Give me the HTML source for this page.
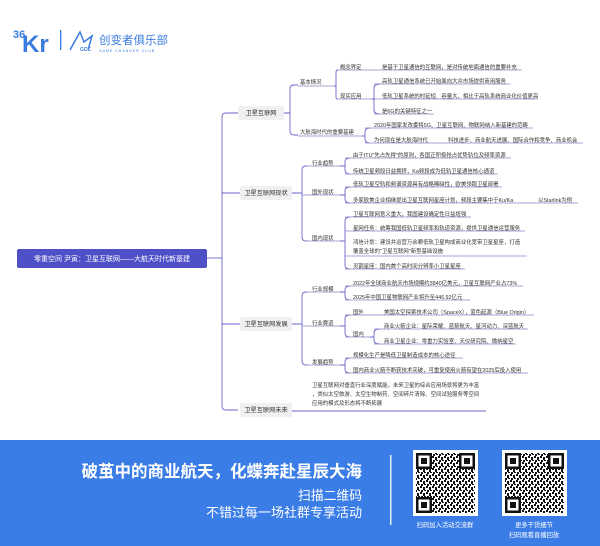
<!DOCTYPE html>
<html><head><meta charset="utf-8"><style>
html,body{margin:0;padding:0;background:#fff;}
svg{display:block;}
text{font-family:"Liberation Sans","Noto Sans CJK SC",sans-serif;}
.t{font-size:5.4px;fill:#333;}
.b{font-size:6.2px;fill:#333;}
.c{fill:none;stroke:#6a66c9;stroke-width:0.9;}
.u{fill:none;stroke:#8a86c8;stroke-width:0.7;}
</style></head><body>
<svg width="600" height="546" viewBox="0 0 600 546" xmlns="http://www.w3.org/2000/svg">
<defs>
<pattern id="qr" width="6" height="6" patternUnits="userSpaceOnUse">
<rect width="6" height="6" fill="#fff"/>
<rect x="0" y="0" width="2" height="2" fill="#111"/><rect x="3" y="1" width="2" height="3" fill="#111"/>
<rect x="1" y="4" width="2" height="2" fill="#111"/><rect x="4" y="4" width="2" height="1" fill="#111"/>
</pattern>
</defs>
<!-- header logo -->
<text x="13" y="38" font-size="11" font-weight="bold" fill="#3a7be0" font-family="Liberation Sans,sans-serif">36</text>
<text x="22" y="52" font-size="24" font-weight="bold" fill="#3a7be0" font-family="Liberation Sans,sans-serif">Kr</text>
<rect x="60" y="30" width="1.3" height="20" fill="#3a7be0"/>
<path d="M70 50 L80 32 L84 42 L92 36 L88 50" fill="none" stroke="#3a7be0" stroke-width="1.5"/>
<text x="80" y="51" font-size="5" font-weight="bold" fill="#3a7be0">GCC</text>
<text x="99" y="44" font-size="11.5" fill="#3a7be0">创变者俱乐部</text>
<text x="99" y="52" font-size="3.5" fill="#3a7be0" letter-spacing="1">GAME CHANGER CLUB</text>

<!-- root -->
<rect x="17" y="249" width="190" height="19" rx="2" fill="#4f50c8"/>
<text x="112" y="261" font-size="7" fill="#fff" text-anchor="middle">零重空间 尹寅：卫星互联网——大航天时代新基建</text>
<!-- spine -->
<path class="c" d="M207 258 H222"/>
<path class="c" d="M238 113 H226 Q222 113 222 117 V406 Q222 410 226 410 H238"/>
<path class="c" d="M222 193 H240 M222 324 H240"/>

<!-- level1 boxes -->
<rect x="238" y="106" width="46" height="14" rx="2" fill="#f0f0f3"/>
<text class="b" x="261" y="115" text-anchor="middle">卫星互联网</text>
<rect x="240" y="186" width="52" height="14" rx="2" fill="#f0f0f3"/>
<text class="b" x="266" y="195" text-anchor="middle">卫星互联网现状</text>
<rect x="240" y="317" width="52" height="14" rx="2" fill="#f0f0f3"/>
<text class="b" x="266" y="326" text-anchor="middle">卫星互联网发展</text>
<rect x="240" y="403" width="52" height="14" rx="2" fill="#f0f0f3"/>
<text class="b" x="266" y="412" text-anchor="middle">卫星互联网未来</text>

<!-- branch 1 -->
<path class="c" d="M284 113 H290 M298 85 H294 Q290 85 290 89 V131 Q290 135 294 135 H298"/>
<text class="t" x="300" y="84">基本情况</text><path class="u" d="M298 86 H334"/>
<text class="t" x="300" y="134">大航海时代的重要基建</text><path class="u" d="M298 136 H362"/>
<path class="c" d="M334 86 H336 M338 70 Q336 70 336 72 V97 Q336 99 338 99"/>
<text class="t" x="340" y="69">概念界定</text><path class="u" d="M338 70 H372"/>
<text class="t" x="340" y="98">现实应用</text><path class="u" d="M338 99 H372"/>
<text class="t" x="382" y="69">是基于卫星通信的互联网，是对传统地面通信的重要补充</text><path class="u" d="M372 70 H522"/>
<path class="c" d="M372 99 H374 M380 84 Q374 84 374 88 V110 Q374 114 380 114"/>
<text class="t" x="382" y="83">高轨卫星通信系统已开始面向大众市场提供商用服务</text><path class="u" d="M374 84 H510"/>
<text class="t" x="382" y="98">低轨卫星系统的时延短、容量大，相比于高轨系统商业化价值更高</text><path class="u" d="M374 99 H538"/>
<text class="t" x="382" y="113">是6G的关键特征之一</text><path class="u" d="M374 114 H434"/>
<path class="c" d="M362 136 H365 M370 128 Q365 128 365 132 V139 Q365 143 370 143"/>
<text class="t" x="374" y="127">2020年国家发改委将5G、卫星互联网、物联网纳入新基建的范畴</text><path class="u" d="M365 128 H533"/>
<text class="t" x="374" y="142">为何现在是大航海时代</text><path class="u" d="M365 143 H432"/>
<text class="t" x="448" y="142">科技进步、商业航天进展、国际合作和竞争、商业机会</text><path class="u" d="M432 143 H583"/>

<!-- branch 2 -->
<path class="c" d="M292 193 H302 M308 166 H306 Q302 166 302 170 V237 Q302 241 306 241 H308"/>
<text class="t" x="312" y="165">行业趋势</text><path class="u" d="M306 166 H340"/>
<text class="t" x="312" y="194">国外现状</text><path class="u" d="M302 195 H340"/>
<text class="t" x="312" y="240">国内现状</text><path class="u" d="M306 241 H340"/>
<path class="c" d="M340 166 H345 M350 158 Q345 158 345 162 V170 Q345 174 350 174"/>
<text class="t" x="353" y="157">由于ITU"先占先得"的原则，各国正积极抢占优势轨位及频率资源</text><path class="u" d="M345 158 H511"/>
<text class="t" x="353" y="173">传统卫星频段日益拥挤，Ka频段成为低轨卫星通信核心通道</text><path class="u" d="M345 174 H498"/>
<path class="c" d="M340 195 H345 M350 187 Q345 187 345 191 V199 Q345 203 350 203"/>
<text class="t" x="353" y="186">低轨卫星空轨和频谱资源具有战略稀缺性，欧美领跑卫星部署</text><path class="u" d="M345 187 H502"/>
<text class="t" x="353" y="202">多家欧美企业相继提出卫星互联网星座计划，频段主要集中于Ku/Ka</text><path class="u" d="M345 203 H520"/>
<text class="t" x="538" y="202">以Starlink为例</text><path class="u" d="M520 203 H578"/>
<path class="c" d="M340 241 H345 M350 217 Q345 217 345 221 V265 Q345 269 350 269"/>
<text class="t" x="353" y="216">卫星互联网意义重大，我国建设确定性日益增强</text><path class="u" d="M345 217 H471"/>
<text class="t" x="353" y="230">星网任务：统筹我国低轨卫星频率和轨道资源，提供卫星通信运营服务</text><path class="u" d="M345 231 H525"/>
<text class="t" x="353" y="244">鸿信计划：建设并运营万余颗低轨卫星构成商业化宽带卫星星座，打造</text>
<text class="t" x="353" y="253">覆盖全球的"卫星互联网"新型基础设施</text><path class="u" d="M345 256 H527"/>
<text class="t" x="353" y="268">灵鹊星座：国内首个高时间分辨率小卫星星座</text><path class="u" d="M345 269 H465"/>

<!-- branch 3 -->
<path class="c" d="M292 324 H302 M308 292 H306 Q302 292 302 296 V361 Q302 365 306 365 H308"/>
<text class="t" x="312" y="291">行业规模</text><path class="u" d="M306 292 H340"/>
<text class="t" x="312" y="325">行业赛道</text><path class="u" d="M302 326 H340"/>
<text class="t" x="312" y="364">发展趋势</text><path class="u" d="M306 365 H340"/>
<path class="c" d="M340 292 H345 M350 286 Q345 286 345 290 V296 Q345 300 350 300"/>
<text class="t" x="353" y="285">2022年全球商业航天市场规模约3840亿美元，卫星互联网产业占73%</text><path class="u" d="M345 286 H523"/>
<text class="t" x="353" y="299">2025年中国卫星物联网产业将升至446.92亿元</text><path class="u" d="M345 300 H470"/>
<path class="c" d="M340 326 H345 M350 315 Q345 315 345 319 V333 Q345 337 350 337"/>
<text class="t" x="353" y="314">国外</text><path class="u" d="M345 315 H376"/>
<text class="t" x="384" y="314">美国太空探索技术公司（SpaceX），蓝色起源（Blue Origin）</text><path class="u" d="M376 315 H534"/>
<text class="t" x="353" y="336">国内</text><path class="u" d="M345 337 H370"/>
<path class="c" d="M370 337 H374 M380 329 Q374 329 374 333 V340 Q374 344 380 344"/>
<text class="t" x="384" y="328">商业火箭企业：星际荣耀、蓝箭航天、星河动力、深蓝航天</text><path class="u" d="M374 329 H528"/>
<text class="t" x="384" y="343">商业卫星企业：零重力实验室、天仪研究院、微纳星空</text><path class="u" d="M374 344 H516"/>
<path class="c" d="M340 365 H345 M350 358 Q345 358 345 362 V369 Q345 373 350 373"/>
<text class="t" x="353" y="357">规模化生产是降低卫星制造成本的核心途径</text><path class="u" d="M345 358 H463"/>
<text class="t" x="353" y="372">国内商业火箭不断获技术突破，可重复使用火箭有望在2025后投入使用</text><path class="u" d="M345 373 H528"/>

<!-- branch 4 -->
<path class="c" d="M292 411 H486"/>
<text class="t" x="312" y="387">卫星互联网对垂直行业深度赋能，未来卫星的综合应用场景将更为丰富</text>
<text class="t" x="312" y="396">，类似太空旅游、太空生物制药、空间碎片清除、空间试验服务等空间</text>
<text class="t" x="312" y="405">应用的模式及形态将不断拓展</text>

<!-- banner -->
<rect x="0" y="440" width="600" height="106" fill="#3b7de6"/>
<text x="362" y="477" font-size="16.5" font-weight="bold" fill="#fff" text-anchor="end">破茧中的商业航天，化蝶奔赴星辰大海</text>
<text x="362" y="500" font-size="12.8" fill="#fff" text-anchor="end">扫描二维码</text>
<text x="362" y="517" font-size="13" fill="#fff" text-anchor="end">不错过每一场社群专享活动</text>
<rect x="390" y="455" width="1.5" height="70" fill="#fff" opacity="0.85"/>
<g>
<rect x="413" y="450" width="65" height="66" fill="#fff"/>
<rect x="416" y="453" width="59" height="60" fill="url(#qr)"/>
<rect x="416" y="453" width="16" height="16" fill="#111"/><rect x="418.5" y="455.5" width="11" height="11" fill="#fff"/><rect x="421" y="458" width="6" height="6" fill="#111"/>
<rect x="459" y="453" width="16" height="16" fill="#111"/><rect x="461.5" y="455.5" width="11" height="11" fill="#fff"/><rect x="464" y="458" width="6" height="6" fill="#111"/>
<rect x="416" y="497" width="16" height="16" fill="#111"/><rect x="418.5" y="499.5" width="11" height="11" fill="#fff"/><rect x="421" y="502" width="6" height="6" fill="#111"/>
</g>
<g>
<rect x="502" y="450" width="65" height="66" fill="#fff"/>
<rect x="505" y="453" width="59" height="60" fill="url(#qr)"/>
<rect x="505" y="453" width="16" height="16" fill="#111"/><rect x="507.5" y="455.5" width="11" height="11" fill="#fff"/><rect x="510" y="458" width="6" height="6" fill="#111"/>
<rect x="548" y="453" width="16" height="16" fill="#111"/><rect x="550.5" y="455.5" width="11" height="11" fill="#fff"/><rect x="553" y="458" width="6" height="6" fill="#111"/>
<rect x="505" y="497" width="16" height="16" fill="#111"/><rect x="507.5" y="499.5" width="11" height="11" fill="#fff"/><rect x="510" y="502" width="6" height="6" fill="#111"/>
</g>
<text x="445" y="527" font-size="6.3" fill="#fff" text-anchor="middle">扫码加入活动交流群</text>
<text x="534" y="527" font-size="6.3" fill="#fff" text-anchor="middle">更多干货细节</text>
<text x="534" y="537" font-size="6.3" fill="#fff" text-anchor="middle">扫码观看直播回放</text>
</svg>
</body></html>
